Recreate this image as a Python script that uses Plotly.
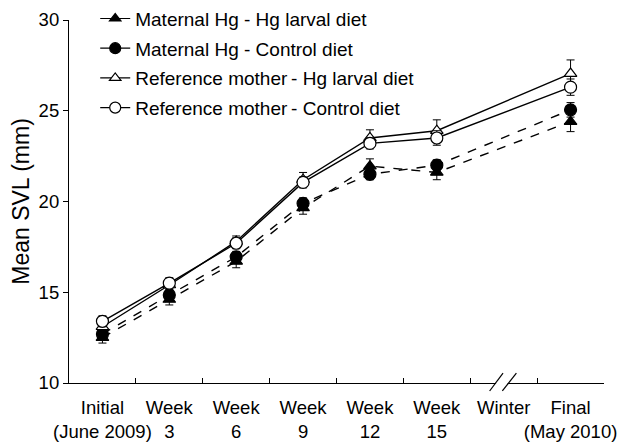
import plotly.graph_objects as go

categories = ["Initial<br>(June 2009)", "Week<br>3", "Week<br>6", "Week<br>9",
              "Week<br>12", "Week<br>15", "Winter", "Final<br>(May 2010)"]
data_cats = [c for c in categories if c != "Winter"]

mhg_hg = [12.5, 14.6, 16.7, 19.65, 21.95, 21.6, 24.4]
mhg_hg_err = [0.3, 0.3, 0.35, 0.35, 0.4, 0.4, 0.55]
mhg_ctrl = [12.7, 14.85, 16.95, 19.9, 21.5, 22.0, 25.05]
mhg_ctrl_err = [0.3, 0.3, 0.3, 0.3, 0.3, 0.3, 0.4]
ref_hg = [13.1, 15.4, 17.8, 21.2, 23.5, 23.9, 27.05]
ref_hg_err = [0.3, 0.3, 0.3, 0.4, 0.45, 0.6, 0.75]
ref_ctrl = [13.4, 15.5, 17.7, 21.05, 23.2, 23.5, 26.3]
ref_ctrl_err = [0.3, 0.3, 0.3, 0.3, 0.3, 0.4, 0.45]

series = [
    ("Maternal Hg - Hg larval diet", mhg_hg, mhg_hg_err, "triangle-up", "black", "dash"),
    ("Maternal Hg - Control diet", mhg_ctrl, mhg_ctrl_err, "circle", "black", "dash"),
    ("Reference mother\u2009- Hg larval diet", ref_hg, ref_hg_err, "triangle-up", "white", "solid"),
    ("Reference mother\u2009- Control diet", ref_ctrl, ref_ctrl_err, "circle", "white", "solid"),
]

fig = go.Figure()
for i, (name, vals, err, sym, fill, dash) in enumerate(series):
    fig.add_trace(go.Scatter(
        x=data_cats, y=vals, mode="lines+markers", name=name, showlegend=False,
        line=dict(color="black", width=1.4, dash=dash),
        marker=dict(symbol=sym, size=12 if sym == "circle" else 11, color=fill,
                    line=dict(color="black", width=1.2)),
        error_y=dict(type="data", array=err, color="black", thickness=1, width=4),
    ))
# legend entries (solid line samples)
for i, (name, vals, err, sym, fill, dash) in enumerate(series):
    fig.add_trace(go.Scatter(
        x=[None], y=[None], mode="lines+markers", name=name, legendgroup=str(i),
        line=dict(color="black", width=1.2),
        marker=dict(symbol=sym, size=11 if sym == "circle" else 10, color=fill,
                    line=dict(color="black", width=1.2)),
    ))

# axis break marks
x1a, x1b = 5.79, 5.99
x2a, x2b = 5.98, 6.19
ya, yb = -0.022, 0.0275
fig.add_shape(type="path", xref="x", yref="paper",
              path=f"M {x1a+0.02},{ya} L {x1b},{yb} L {x2b-0.02},{yb} L {x2a},{ya} Z",
              fillcolor="white", line=dict(width=0), layer="above")
for (a, b) in [(x1a, x1b), (x2a, x2b)]:
    fig.add_shape(type="line", xref="x", yref="paper", x0=a, y0=ya, x1=b, y1=yb,
                  line=dict(color="black", width=1.2), layer="above")

fig.update_layout(
    width=619, height=434,
    margin=dict(l=61, r=23, t=12, b=59, autoexpand=False),
    plot_bgcolor="white", paper_bgcolor="white",
    font=dict(family="Liberation Sans, Arial, sans-serif", size=18, color="black"),
    legend=dict(x=0.049, y=1.056, xanchor="left", yanchor="top",
                bgcolor="rgba(0,0,0,0)", tracegroupgap=2, traceorder="grouped",
                font=dict(size=19)),
    xaxis=dict(type="category", categoryorder="array", categoryarray=categories,
               range=[-0.5, 7.5], showline=True, linecolor="black", linewidth=1.2,
               ticks="inside", tickson="boundaries", ticklen=5, tickcolor="black",
               ticklabelstandoff=8,
               tickangle=0, showgrid=False, zeroline=False, tickfont=dict(size=18.5)),
    yaxis=dict(range=[10, 30], tickvals=[10, 15, 20, 25, 30], showline=True,
               linecolor="black", linewidth=1.2, ticks="outside", ticklen=5,
               tickcolor="black", showgrid=False, zeroline=False,
               title=dict(text="Mean SVL (mm)", font=dict(size=23), standoff=7),
               tickfont=dict(size=18.5)),
)
fig.write_html("out.html")
